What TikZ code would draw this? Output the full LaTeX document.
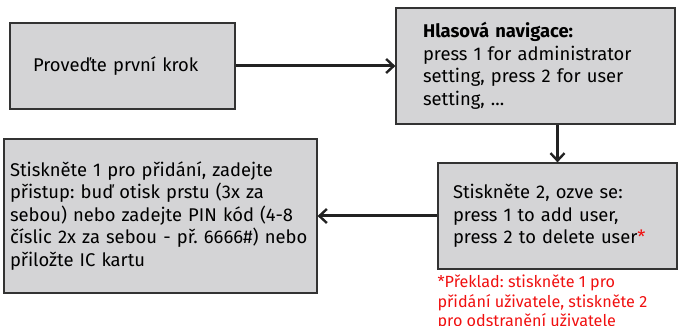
\documentclass[tikz,border=0pt]{standalone}
\usepackage{fontspec}
\setmainfont{Fira Sans}
\frenchspacing
\usetikzlibrary{arrows.meta}
\definecolor{boxfill}{HTML}{D4D4D6}
\definecolor{boxline}{HTML}{333333}
\definecolor{arrowcol}{HTML}{222222}
\definecolor{notecol}{HTML}{F01010}
\begin{document}
\begin{tikzpicture}[
   x=1pt, y=1pt,
   box/.style={rectangle, draw=boxline, line width=1.2pt, fill=boxfill, align=left,
      inner sep=0pt, font=\fontsize{18.4}{22.5}\selectfont},
   arrow/.style={-{Straight Barb[length=7.5pt,width=14pt,line width=2.4pt]}, line width=3pt, draw=arrowcol}
]
\useasboundingbox (0,0) rectangle (678,326);

% Boxes
\node[box, minimum width=225, minimum height=86, text width=179] (krok) at (122.5,260)
   {Proveďte první krok};
\node[box, minimum width=279, minimum height=116, text width=225] (navigace) at (535.5,260)
   {\textbf{Hlasová navigace:}\\press 1 for administrator\\setting, press 2 for user\\setting, ...};
\node[box, minimum width=239, minimum height=106, text width=209] (stisk2) at (557.5,110)
   {Stiskněte 2, ozve se:\\press 1 to add user,\\press 2 to delete user\textcolor{notecol}{*}};
\node[box, minimum width=313, minimum height=154, text width=301] (stisk1) at (160.5,110)
   {Stiskněte 1 pro přidání, zadejte\\přistup: buď otisk prstu (3x za\\sebou) nebo zadejte PIN kód (4-8\\číslic 2x za sebou - př. 6666\#) nebo\\přiložte IC kartu};

% Note
\node[anchor=north west, inner sep=0pt, align=left, text=notecol,
   font=\fontsize{16.2}{19.5}\selectfont] (preklad) at ([yshift=-5]stisk2.south west)
   {*Překlad: stiskněte 1 pro\\přidání uživatele, stiskněte 2\\pro odstranění uživatele};

% Arrows
\draw[arrow] (krok.east) -- (navigace.west);
\draw[arrow] (navigace.south -| stisk2.north) -- (stisk2.north);
\draw[arrow] (stisk2.west) -- (stisk1.east);

\end{tikzpicture}
\end{document}
